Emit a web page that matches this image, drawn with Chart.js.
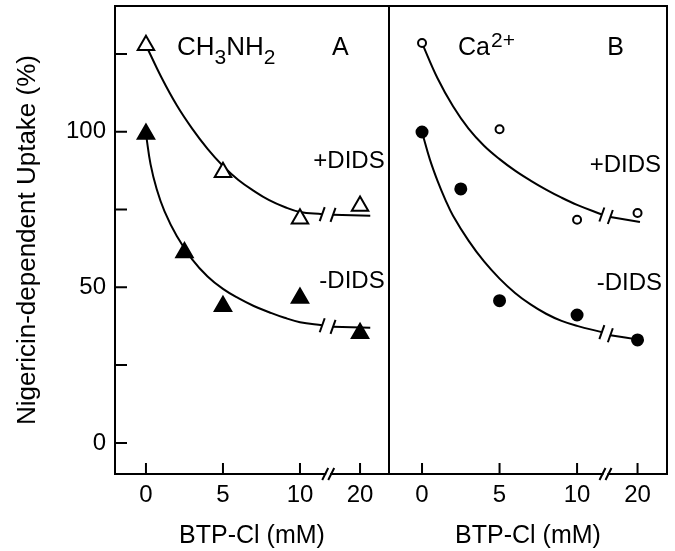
<!DOCTYPE html>
<html><head><meta charset="utf-8">
<script src="https://cdn.jsdelivr.net/npm/chart.js@4.4.0/dist/chart.umd.min.js"></script>
<style>
html,body{margin:0;padding:0;background:#fff;}
#wrap{position:relative;width:675px;height:551px;overflow:hidden;background:#fff;}
canvas{position:absolute;top:0;}
#cA{left:0;}
#cB{left:380px;}
</style></head><body>
<div id="wrap"><canvas id="cA" width="392" height="551"></canvas><canvas id="cB" width="295" height="551"></canvas></div>
<script>
const FONT = '"Liberation Sans", Arial, Helvetica, sans-serif';

// ---- axes ----
const xTickValues = [0, 5, 10, 20];
const yTickValues = [0, 25, 50, 75, 100, 125];
const yTickLabels = ['0', '', '50', '', '100', ''];
const xAxisTitle = 'BTP-Cl (mM)';
const yAxisTitle = 'Nigericin-dependent Uptake (%)';
const xBreakAt = 14.7;   // mM where the axis is broken

// ---- Panel A : CH3NH2 ----
const aOpenX = [0, 5, 10, 20];            // +DIDS (open triangles)
const aOpenY = [127.8, 87.0, 72.0, 76.1];
const aFilledX = [0, 2.5, 5, 10, 20];     // -DIDS (filled triangles)
const aFilledY = [99.3, 61.2, 43.9, 46.6, 35.2];
const aOpenCurveX = [0, 1, 2, 3, 4, 5, 6, 7, 8, 9, 10, 13.7];
const aOpenCurveY = [127.8, 117.5, 108.5, 101.0, 94.5, 89.0, 84.5, 81.0, 78.0, 75.8, 74.2, 73.5];
const aOpenTailX = [15.5, 21.7];
const aOpenTailY = [73.3, 73.0];
const aFilledCurveX = [0, 0.3, 0.7, 1.2, 2, 3, 4, 5, 6, 7, 8, 9, 10, 13.7];
const aFilledCurveY = [99.3, 89.5, 81.5, 74.5, 66.5, 59.0, 53.5, 49.5, 46.5, 44.0, 42.0, 40.2, 38.8, 37.8];
const aFilledTailX = [15.5, 21.7];
const aFilledTailY = [37.3, 37.0];

// ---- Panel B : Ca2+ ----
const bOpenX = [0, 5, 10, 20];            // +DIDS (open circles)
const bOpenY = [128.5, 100.8, 71.7, 73.9];
const bFilledX = [0, 2.5, 5, 10, 20];     // -DIDS (filled circles)
const bFilledY = [99.9, 81.6, 45.7, 41.1, 33.1];
const bOpenCurveX = [0, 1, 2, 3, 4, 5, 6, 7, 8, 9, 10, 14.1];
const bOpenCurveY = [128.5, 117.2, 108.2, 101.0, 95.5, 91.2, 87.5, 84.3, 81.4, 78.8, 76.5, 73.4];
const bOpenTailX = [15.5, 20.4];
const bOpenTailY = [72.6, 71.0];
const bFilledCurveX = [0, 0.5, 1, 1.5, 2, 3, 4, 5, 6, 7, 8, 9, 10, 14.1];
const bFilledCurveY = [99.9, 91.2, 84.2, 78.2, 73.0, 65.0, 58.3, 52.8, 48.2, 44.5, 41.5, 39.2, 37.6, 35.6];
const bFilledTailX = [15.5, 20.4];
const bFilledTailY = [34.6, 33.1];

// broken axis: 0-10 linear, 10-20 compressed
function brk(x) { return x <= 10 ? x : 10 + (x - 10) * 0.39; }
function pts(xs, ys) { return xs.map((x, i) => ({ x: brk(x), y: ys[i] })); }

function curve(xs, ys, extra) {
  return Object.assign({ type: 'line', data: pts(xs, ys), borderColor: '#000', borderWidth: 2,
    pointRadius: 0, fill: false, tension: 0.4, borderCapStyle: 'butt' }, extra || {});
}
function marks(xs, ys, style, r, filled) {
  return { type: 'scatter', data: pts(xs, ys), showLine: false, pointStyle: style, pointRadius: r,
    pointBorderWidth: 2, pointBorderColor: '#000', pointBackgroundColor: filled ? '#000' : '#fff' };
}
function noPad(s) { s.paddingTop = 0; s.paddingBottom = 0; s.paddingLeft = 0; s.paddingRight = 0; }

const framePlugin = {
  id: 'frame',
  afterDraw(chart, args, opts) {
    const { ctx, chartArea: { left, top, right, bottom } } = chart;
    const xs = chart.scales.x, ys = chart.scales.y;
    ctx.save();
    ctx.strokeStyle = '#000'; ctx.lineWidth = 2; ctx.lineCap = 'butt';
    ctx.strokeRect(left, top, right - left, bottom - top);
    // inward ticks
    ctx.beginPath();
    xs.ticks.forEach(t => { const p = xs.getPixelForValue(t.value); ctx.moveTo(p, bottom); ctx.lineTo(p, bottom - 11); });
    if (opts.yTicks) ys.ticks.forEach(t => { const p = ys.getPixelForValue(t.value); ctx.moveTo(left, p); ctx.lineTo(left + 12, p); });
    ctx.stroke();
    // axis break
    const bx = xs.getPixelForValue(brk(xBreakAt));
    ctx.fillStyle = '#fff';
    ctx.fillRect(bx - 2, bottom - 2, 4, 4);
    ctx.beginPath();
    [-3, 3].forEach(d => { ctx.moveTo(bx + d - 3, bottom + 6); ctx.lineTo(bx + d + 3, bottom - 6); });
    ctx.stroke();
    // curve break marks
    chart.data.datasets.forEach((ds, i) => {
      if (!ds.breakMark) return;
      const meta = chart.getDatasetMeta(i);
      const el = ds.breakMark === 'end' ? meta.data[meta.data.length - 1] : meta.data[0];
      ctx.beginPath(); ctx.moveTo(el.x - 2.5, el.y + 7); ctx.lineTo(el.x + 2.5, el.y - 7); ctx.stroke();
    });
    // annotations
    ctx.fillStyle = '#000'; ctx.textBaseline = 'alphabetic'; ctx.textAlign = 'left';
    (opts.texts || []).forEach(t => {
      let x = xs.getPixelForValue(t.x), y = ys.getPixelForValue(t.y);
      const parts = t.parts;
      if (t.align === 'right') {
        let w = 0;
        parts.forEach(p => { ctx.font = p.size + 'px ' + FONT; w += ctx.measureText(p.s).width + (p.gap || 0); });
        x -= w;
      }
      parts.forEach(p => {
        ctx.font = p.size + 'px ' + FONT;
        x += (p.gap || 0);
        ctx.fillText(p.s, x, y + (p.dy || 0));
        x += ctx.measureText(p.s).width;
      });
    });
    ctx.restore();
  }
};

function makePanel(id, datasets, cfg) {
  return new Chart(document.getElementById(id), {
    type: 'scatter',
    data: { datasets },
    plugins: [framePlugin],
    options: {
      responsive: false, animation: false, devicePixelRatio: 1,
      layout: { padding: cfg.padding, autoPadding: false },
      plugins: { legend: { display: false }, tooltip: { enabled: false }, frame: { yTicks: cfg.yShow, texts: cfg.texts } },
      scales: {
        x: {
          type: 'linear', min: cfg.xMin, max: cfg.xMax,
          afterBuildTicks: s => { s.ticks = xTickValues.map(v => ({ value: brk(v) })); },
          afterFit: s => { s.height = 77; noPad(s); },
          grid: { display: false, drawTicks: false }, border: { display: false },
          ticks: { autoSkip: false, maxRotation: 0, padding: 7, color: '#000', font: { family: FONT, size: 24 },
            callback: (v, i) => String(xTickValues[i]) },
          title: { display: true, text: xAxisTitle, color: '#000', font: { family: FONT, size: 25, lineHeight: 1 }, padding: { top: 0, bottom: 2 } }
        },
        y: {
          type: 'linear', min: -10, max: 140.4, display: cfg.yShow,
          afterBuildTicks: s => { s.ticks = yTickValues.map(v => ({ value: v })); },
          afterFit: s => { s.width = cfg.yShow ? 115 : 0; noPad(s); },
          grid: { display: false, drawTicks: false }, border: { display: false },
          ticks: { autoSkip: false, padding: 9, color: '#000', font: { family: FONT, size: 24 },
            callback: (v, i) => yTickLabels[i] },
          title: { display: true, text: yAxisTitle, color: '#000', font: { family: FONT, size: 26, lineHeight: 1.2 }, padding: { top: 12, bottom: 0 } }
        }
      }
    }
  });
}

makePanel('cA', [
  marks(aOpenX, aOpenY, 'triangle', 9.5, false),
  marks(aFilledX, aFilledY, 'triangle', 9.5, true),
  curve(aOpenCurveX, aOpenCurveY, { breakMark: 'end' }),
  curve(aOpenTailX, aOpenTailY, { breakMark: 'start' }),
  curve(aFilledCurveX, aFilledCurveY, { breakMark: 'end' }),
  curve(aFilledTailX, aFilledTailY, { breakMark: 'start' })
], {
  padding: { left: 0, right: 3, top: 6, bottom: 0 }, xMin: -2.01, xMax: 15.78, yShow: true,
  texts: [
    { x: 2.01, y: 124.7, parts: [{ s: 'CH', size: 26 }, { s: '3', size: 21, dy: 9 }, { s: 'NH', size: 26 }, { s: '2', size: 21, dy: 9 }] },
    { x: 12.08, y: 124.7, parts: [{ s: 'A', size: 25 }] },
    { x: 15.5, y: 88.4, align: 'right', parts: [{ s: '+DIDS', size: 24 }] },
    { x: 15.5, y: 49.8, align: 'right', parts: [{ s: '-DIDS', size: 24 }] }
  ]
});

makePanel('cB', [
  marks(bOpenX, bOpenY, 'circle', 4, false),
  marks(bFilledX, bFilledY, 'circle', 5.5, true),
  curve(bOpenCurveX, bOpenCurveY, { breakMark: 'end' }),
  curve(bOpenTailX, bOpenTailY, { breakMark: 'start' }),
  curve(bFilledCurveX, bFilledCurveY, { breakMark: 'end' }),
  curve(bFilledTailX, bFilledTailY, { breakMark: 'start' })
], {
  padding: { left: 9, right: 8, top: 6, bottom: 0 }, xMin: -2.13, xMax: 15.8, yShow: false,
  texts: [
    { x: 2.32, y: 124.7, parts: [{ s: 'Ca', size: 25 }, { s: '2+', size: 21, dy: -8, gap: 1 }] },
    { x: 11.94, y: 124.7, parts: [{ s: 'B', size: 25 }] },
    { x: 15.42, y: 87.1, align: 'right', parts: [{ s: '+DIDS', size: 24 }] },
    { x: 15.48, y: 49.2, align: 'right', parts: [{ s: '-DIDS', size: 24 }] }
  ]
});
</script>
</body></html>
